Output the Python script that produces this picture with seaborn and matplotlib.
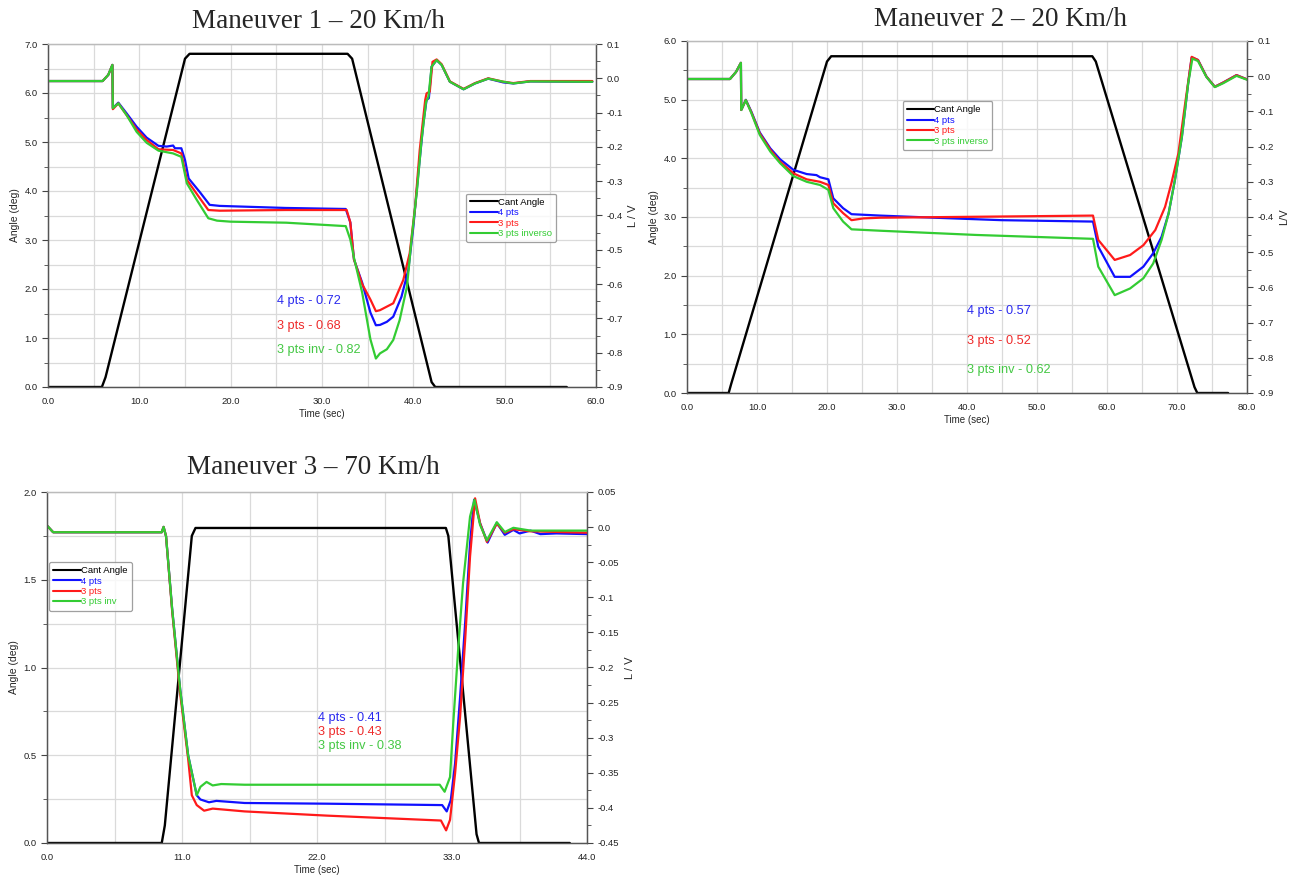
import numpy as np
import pandas as pd
import matplotlib
matplotlib.use("Agg")
import matplotlib.pyplot as plt
from matplotlib.lines import Line2D
import seaborn as sns

# ---- maneuver 1 (20 km/h) ----
m1_cant_t = [0.0, 5.9, 6.3, 15.0, 15.5, 32.8, 33.3, 42.0, 42.4, 56.8]
m1_cant = [0.0, 0.0, 0.2, 6.7, 6.8, 6.8, 6.7, 0.1, 0.0, 0.0]

m1_green_t = [0, 5.98, 6.6, 7.05, 7.1, 7.7, 8.6, 9.7, 10.8, 12.1, 13.7, 14.6, 15.2, 16.3, 17.55,
              18.5, 20.0, 26.1, 32.6, 33.1, 33.5, 34.4, 35.3, 35.9, 36.35, 37.1, 37.8, 38.5, 39.3,
              39.8, 40.4, 40.9, 41.4, 41.65, 42.0, 42.55, 43.1, 44.0, 45.5, 46.75, 48.2, 49.85,
              50.95, 52.8, 58.25, 59.6]
m1_green = [-0.008, -0.008, 0.01, 0.039, -0.087, -0.073, -0.107, -0.156, -0.188, -0.211, -0.219,
            -0.229, -0.306, -0.355, -0.408, -0.415, -0.418, -0.421, -0.431, -0.47, -0.523, -0.625,
            -0.761, -0.817, -0.802, -0.79, -0.763, -0.705, -0.608, -0.471, -0.326, -0.18, -0.068,
            -0.054, 0.034, 0.053, 0.039, -0.01, -0.032, -0.015, -0.001, -0.01, -0.015, -0.009,
            -0.01, -0.01]

m1_blue_t = [0, 5.98, 6.6, 7.05, 7.1, 7.7, 8.6, 9.7, 10.8, 12.1, 13.0, 13.7, 13.9, 14.6, 15.0,
             15.4, 16.6, 17.7, 18.8, 26.0, 32.6, 33.1, 33.5, 34.4, 35.3, 35.9, 36.35, 37.1, 37.8,
             38.7, 39.45, 40.0, 40.55, 41.1, 41.45, 41.7, 42.0, 42.55, 43.1, 44.0, 45.5, 46.75,
             48.2, 49.85, 50.95, 52.8, 58.25, 59.6]
m1_blue = [-0.008, -0.008, 0.01, 0.039, -0.087, -0.071, -0.102, -0.141, -0.173, -0.197, -0.199,
           -0.196, -0.204, -0.204, -0.238, -0.292, -0.331, -0.369, -0.372, -0.378, -0.381, -0.42,
           -0.528, -0.596, -0.683, -0.72, -0.719, -0.71, -0.695, -0.637, -0.559, -0.433, -0.277,
           -0.131, -0.063, -0.058, 0.034, 0.053, 0.039, -0.01, -0.032, -0.015, -0.001, -0.012,
           -0.015, -0.009, -0.01, -0.01]

m1_red_t = [0, 5.98, 6.6, 7.05, 7.1, 7.7, 8.6, 9.7, 10.8, 12.1, 13.7, 14.6, 15.2, 16.5, 17.55,
            18.8, 26.0, 32.7, 33.1, 33.5, 34.4, 35.3, 35.9, 36.35, 37.8, 38.9, 39.6, 40.2, 40.7,
            41.3, 41.45, 41.8, 42.1, 42.55, 43.1, 44.0, 45.5, 46.75, 48.2, 49.85, 50.95, 52.8,
            58.25, 59.6]
m1_red = [-0.008, -0.008, 0.01, 0.039, -0.09, -0.073, -0.107, -0.149, -0.18, -0.207, -0.209,
          -0.219, -0.296, -0.345, -0.384, -0.386, -0.384, -0.384, -0.42, -0.528, -0.6, -0.645,
          -0.679, -0.676, -0.656, -0.588, -0.51, -0.374, -0.209, -0.063, -0.044, -0.039, 0.048,
          0.055, 0.041, -0.009, -0.031, -0.014, 0.0, -0.01, -0.014, -0.008, -0.008, -0.008]

# ---- maneuver 2 (20 km/h) ----
m2_cant_t = [0.0, 5.95, 6.3, 20.0, 20.6, 57.9, 58.4, 72.5, 72.9, 77.3]
m2_cant = [0.0, 0.0, 0.15, 5.65, 5.74, 5.74, 5.65, 0.1, 0.0, 0.0]

m2_green_t = [0, 6.14, 7.0, 7.7, 7.75, 8.4, 9.2, 10.4, 11.9, 13.3, 15.2, 17.1, 19.0, 20.2, 20.9,
              22.3, 23.5, 27.6, 41.3, 58.0, 58.75, 61.1, 63.3, 65.2, 66.6, 67.8, 68.8, 69.7, 70.7,
              71.6, 72.2, 73.0, 74.2, 75.4, 76.6, 78.5, 80.0]
m2_green = [-0.008, -0.008, 0.012, 0.038, -0.096, -0.068, -0.105, -0.167, -0.214, -0.247, -0.284,
            -0.3, -0.309, -0.323, -0.375, -0.413, -0.435, -0.439, -0.451, -0.462, -0.541, -0.622,
            -0.603, -0.574, -0.532, -0.465, -0.39, -0.295, -0.172, -0.02, 0.05, 0.043, -0.002,
            -0.031, -0.02, 0.001, -0.01]

m2_blue_t = [0, 6.14, 7.0, 7.7, 7.75, 8.4, 9.2, 10.4, 11.9, 13.3, 15.2, 17.1, 18.5, 19.0, 20.2,
             20.9, 22.3, 23.5, 27.6, 35.3, 44.9, 58.0, 58.75, 61.1, 63.3, 65.2, 66.6, 67.8, 68.8,
             69.7, 70.7, 71.6, 72.1, 73.0, 74.2, 75.4, 76.6, 78.5, 80.0]
m2_blue = [-0.008, -0.008, 0.012, 0.038, -0.096, -0.067, -0.101, -0.16, -0.205, -0.236, -0.266,
           -0.278, -0.281, -0.287, -0.293, -0.347, -0.375, -0.392, -0.396, -0.402, -0.409, -0.413,
           -0.484, -0.57, -0.57, -0.541, -0.503, -0.456, -0.39, -0.295, -0.172, -0.02, 0.053,
           0.046, -0.001, -0.03, -0.018, 0.003, -0.009]

m2_red_t = [0, 6.14, 7.0, 7.7, 7.75, 8.4, 9.2, 10.4, 11.9, 13.3, 15.2, 17.1, 19.0, 20.2, 20.9,
            22.3, 23.5, 25.2, 27.6, 58.0, 58.75, 61.1, 63.3, 65.2, 66.9, 68.3, 69.2, 70.2, 71.1,
            72.1, 73.0, 74.2, 75.4, 76.6, 78.5, 80.0]
m2_red = [-0.008, -0.008, 0.012, 0.038, -0.096, -0.068, -0.103, -0.163, -0.209, -0.243, -0.276,
          -0.293, -0.3, -0.309, -0.361, -0.389, -0.409, -0.404, -0.402, -0.396, -0.465, -0.522,
          -0.508, -0.48, -0.437, -0.371, -0.304, -0.219, -0.087, 0.055, 0.046, -0.001, -0.03,
          -0.018, 0.003, -0.009]

# ---- maneuver 3 (70 km/h) ----
m3_cant_t = [0.0, 9.35, 9.6, 11.8, 12.1, 32.5, 32.7, 35.0, 35.2, 42.6]
m3_cant = [0.0, 0.0, 0.1, 1.75, 1.795, 1.795, 1.75, 0.05, 0.0, 0.0]

m3_green_t = [0, 0.5, 9.35, 9.5, 9.7, 10.2, 10.85, 11.5, 12.2, 12.5, 13.0, 13.5, 14.2, 16.1, 32.0,
              32.4, 32.84, 33.1, 33.5, 33.9, 34.47, 34.83, 35.29, 35.84, 36.65, 37.3, 38.0, 39.4,
              44.0]
m3_green = [0.0022, -0.0073, -0.0073, 0.0003, -0.013, -0.117, -0.231, -0.325, -0.382, -0.370,
            -0.363, -0.368, -0.366, -0.367, -0.367, -0.377, -0.356, -0.28, -0.175, -0.08, 0.015,
            0.039, 0.003, -0.019, 0.007, -0.007, -0.001, -0.005, -0.005]

m3_blue_t = [0, 0.5, 9.35, 9.5, 9.7, 10.2, 10.85, 11.5, 12.2, 12.5, 13.2, 13.8, 16.1, 22.8, 32.2,
             32.57, 32.9, 33.25, 33.66, 34.07, 34.47, 34.8, 35.29, 35.9, 36.65, 37.3, 38.0, 38.5,
             39.4, 40.2, 41.5, 44.0]
m3_blue = [0.0022, -0.0073, -0.0073, 0.0003, -0.013, -0.117, -0.231, -0.325, -0.382, -0.388,
           -0.392, -0.39, -0.393, -0.394, -0.396, -0.405, -0.389, -0.337, -0.242, -0.137, -0.023,
           0.039, 0.0054, -0.022, 0.006, -0.011, -0.004, -0.009, -0.005, -0.01, -0.009, -0.01]

m3_red_t = [0, 0.5, 9.35, 9.5, 9.7, 10.2, 10.85, 11.5, 11.8, 12.2, 12.8, 13.5, 16.1, 22.8, 32.1,
            32.52, 32.84, 33.25, 33.66, 34.07, 34.47, 34.88, 35.29, 35.84, 36.65, 37.3, 38.0,
            39.4, 44.0]
m3_red = [0.0022, -0.0073, -0.0073, 0.0003, -0.013, -0.12, -0.237, -0.33, -0.382, -0.396, -0.404,
          -0.401, -0.405, -0.411, -0.418, -0.432, -0.417, -0.351, -0.27, -0.161, -0.042, 0.041,
          0.0054, -0.021, 0.005, -0.008, -0.003, -0.006, -0.008]

# annotation texts (max L/V for each config)
m1_notes = ["4 pts - 0.72", "3 pts - 0.68", "3 pts inv - 0.82"]
m2_notes = ["4 pts - 0.57", "3 pts - 0.52", "3 pts inv - 0.62"]
m3_notes = ["4 pts - 0.41", "3 pts - 0.43", "3 pts inv - 0.38"]

BLUE = "#1010ff"
RED = "#ff1a1a"
GREEN = "#33cc33"
TXT_BLUE = "#2a2aee"
TXT_RED = "#ee2a2a"
TXT_GREEN = "#44c844"
GRID = "#dadada"

sns.set_style("white")
plt.rcParams['font.family'] = ['Liberation Sans', 'DejaVu Sans']

fig = plt.figure(figsize=(13, 8.77), dpi=100)


def draw_panel(rect, title, title_xy, cant_t, cant, series, xlim, xmaj, xmin, xlabels,
               ylim, ymaj, ymin, ylabels, rlim, rmaj, rmin, rlabels, rlabel, legend_names,
               legend_xy, notes, notes_x, notes_y):
    ax = fig.add_axes(rect)
    ax2 = ax.twinx()
    # cant angle on the left axis
    sns.lineplot(x=cant_t, y=cant, ax=ax, color="black", lw=1.7, sort=False, estimator=None)
    # L/V on the right axis
    for (t, v, c) in series:
        sns.lineplot(x=t, y=v, ax=ax2, color=c, lw=1.6, sort=False, estimator=None)

    ax.set_xlim(*xlim)
    ax.set_ylim(*ylim)
    ax2.set_ylim(*rlim)
    ax.set_xticks(xmaj)
    ax.set_xticks(xmin, minor=True)
    ax.set_xticklabels(xlabels)
    ax.set_yticks(ymaj)
    ax.set_yticks(ymin, minor=True)
    ax.set_yticklabels(ylabels)
    ax2.set_yticks(rmaj)
    ax2.set_yticks(rmin, minor=True)
    ax2.set_yticklabels(rlabels)
    ax.grid(True, which="both", color=GRID, lw=0.9)
    ax.set_axisbelow(True)
    for a in (ax, ax2):
        a.tick_params(which="both", direction="out", labelsize=6.8, colors="#444444",
                      labelcolor="#222222")
        a.tick_params(which="major", length=4)
        a.tick_params(which="minor", length=3)
        for s in a.spines.values():
            s.set_color("#555555")
            s.set_linewidth(0.9)
        a.spines["top"].set_color("#bbbbbb")
    ax.tick_params(axis="x", which="minor", length=0)
    ax.set_xlabel("Time (sec)", fontsize=7, labelpad=2)
    ax.set_ylabel("Angle (deg)", fontsize=7.5, labelpad=3)
    ax2.set_ylabel(rlabel, fontsize=8, labelpad=4)

    handles = [Line2D([], [], color="black", lw=1.5)] + \
              [Line2D([], [], color=c, lw=1.5) for (_, _, c) in series]
    leg = ax2.legend(handles, legend_names, loc="upper left", bbox_to_anchor=legend_xy,
                     fontsize=6.8, frameon=True, fancybox=True, edgecolor="#888888",
                     handlelength=2.9, handletextpad=0.0, borderpad=0.45, labelspacing=0.15,
                     borderaxespad=0, labelcolor="linecolor")
    leg.get_frame().set_linewidth(0.9)

    for txt, yy, c in zip(notes, notes_y, [TXT_BLUE, TXT_RED, TXT_GREEN]):
        ax.text(notes_x, yy, txt, color=c, fontsize=9.2, va="center", ha="left")

    fig.text(title_xy[0], title_xy[1], title, ha="center", va="center", fontsize=19.5,
             family=["Liberation Serif", "DejaVu Serif"])


lv_names = ["Cant Angle", "4 pts", "3 pts", "3 pts inverso"]

draw_panel([48 / 1300, 1 - 387 / 877, 548 / 1300, 343 / 877], "Maneuver 1 \u2013 20 Km/h",
           (318 / 1300, 1 - 22 / 877), m1_cant_t, m1_cant,
           [(m1_blue_t, m1_blue, BLUE), (m1_red_t, m1_red, RED), (m1_green_t, m1_green, GREEN)],
           (0, 60), np.arange(0, 61, 10), np.arange(0, 61, 5),
           ["0.0", "10.0", "20.0", "30.0", "40.0", "50.0", "60.0"],
           (0, 7), np.arange(0, 7.1, 1), np.arange(0, 7.1, 0.5),
           ["0.0", "1.0", "2.0", "3.0", "4.0", "5.0", "6.0", "7.0"],
           (-0.9, 0.1), np.round(np.arange(-0.9, 0.11, 0.1), 2), np.round(np.arange(-0.9, 0.11, 0.05), 3),
           ["-0.9", "-0.8", "-0.7", "-0.6", "-0.5", "-0.4", "-0.3", "-0.2", "-0.1", "0.0", "0.1"],
           "L / V", lv_names, (0.763, 0.564), m1_notes, 25.1, [1.755, 1.245, 0.75])

draw_panel([687 / 1300, 1 - 393 / 877, 560 / 1300, 352 / 877], "Maneuver 2 \u2013 20 Km/h",
           (1000 / 1300, 1 - 20 / 877), m2_cant_t, m2_cant,
           [(m2_blue_t, m2_blue, BLUE), (m2_red_t, m2_red, RED), (m2_green_t, m2_green, GREEN)],
           (0, 80), np.arange(0, 81, 10), np.arange(0, 81, 5),
           ["0.0", "10.0", "20.0", "30.0", "40.0", "50.0", "60.0", "70.0", "80.0"],
           (0, 6), np.arange(0, 6.1, 1), np.arange(0, 6.1, 0.5),
           ["0.0", "1.0", "2.0", "3.0", "4.0", "5.0", "6.0"],
           (-0.9, 0.1), np.round(np.arange(-0.9, 0.11, 0.1), 2), np.round(np.arange(-0.9, 0.11, 0.05), 3),
           ["-0.9", "-0.8", "-0.7", "-0.6", "-0.5", "-0.4", "-0.3", "-0.2", "-0.1", "0.0", "0.1"],
           "L/V", lv_names, (0.385, 0.829), m2_notes, 40.0, [1.39, 0.89, 0.39])

draw_panel([47 / 1300, 1 - 843 / 877, 540 / 1300, 351 / 877], "Maneuver 3 \u2013 70 Km/h",
           (313 / 1300, 1 - 467 / 877), m3_cant_t, m3_cant,
           [(m3_blue_t, m3_blue, BLUE), (m3_red_t, m3_red, RED), (m3_green_t, m3_green, GREEN)],
           (0, 44), np.arange(0, 44.1, 11), np.arange(0, 44.1, 5.5),
           ["0.0", "11.0", "22.0", "33.0", "44.0"],
           (0, 2), np.arange(0, 2.01, 0.5), np.arange(0, 2.01, 0.25),
           ["0.0", "0.5", "1.0", "1.5", "2.0"],
           (-0.45, 0.05), np.round(np.arange(-0.45, 0.051, 0.05), 3), np.round(np.arange(-0.45, 0.051, 0.025), 4),
           ["-0.45", "-0.4", "-0.35", "-0.3", "-0.25", "-0.2", "-0.15", "-0.1", "-0.05", "0.0", "0.05"],
           "L / V", ["Cant Angle", "4 pts", "3 pts", "3 pts inv"], (0.004, 0.801), m3_notes,
           22.05, [0.71, 0.63, 0.55])

fig.savefig("out.png", dpi=100)
